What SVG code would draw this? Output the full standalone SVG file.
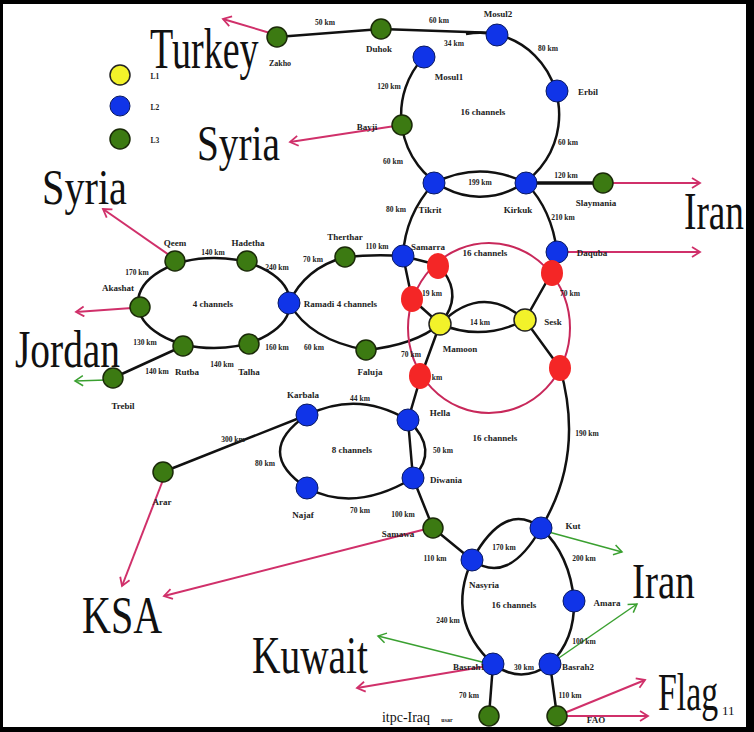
<svg xmlns="http://www.w3.org/2000/svg" width="754" height="732" viewBox="0 0 754 732">
<style>
.big{font-family:"Liberation Serif",serif;fill:#111;}
.nm{font-family:"Liberation Serif",serif;font-size:9px;font-weight:bold;fill:#222;text-anchor:middle;}
.km{font-family:"Liberation Serif",serif;font-size:7.5px;font-weight:bold;fill:#222;text-anchor:middle;}
.e{fill:none;stroke:#111;stroke-width:2.5;}
.pk{fill:none;stroke:#d0306a;stroke-width:2;marker-end:url(#ap);}
.gr{fill:none;stroke:#3aa030;stroke-width:1.5;marker-end:url(#ag);}
.g{fill:#3c7a12;stroke:#1a2a08;stroke-width:1.5;}
.b{fill:#1034e8;stroke:#0a1a60;stroke-width:1;}
.y{fill:#f2f22a;stroke:#222;stroke-width:1.5;}
.r{fill:#f42626;stroke:none;}
</style>
<defs>
<marker id="ap" markerUnits="userSpaceOnUse" markerWidth="14" markerHeight="14" refX="10" refY="6" orient="auto"><path d="M2,1 L10,6 L2,11" fill="none" stroke="#d0306a" stroke-width="1.8"/></marker>
<marker id="ag" markerUnits="userSpaceOnUse" markerWidth="14" markerHeight="14" refX="10" refY="6" orient="auto"><path d="M2,1 L10,6 L2,11" fill="none" stroke="#3aa030" stroke-width="1.5"/></marker>
</defs>
<rect x="0" y="0" width="754" height="732" fill="#000"/>
<rect x="3" y="4" width="743" height="723" fill="#fff"/>

<g id="connectors">
<path class="e" d="M277,37 L381,29 L497,33"/>
<path class="e" d="M466,34 A79,82 0 1 1 424,57"/>
<path class="e" d="M434,183 Q480,160 526,183"/>
<path class="e" d="M434,183 Q405,215 403,256"/>
<path class="e" d="M526,183 Q552,210 557,252"/>
<path class="e" style="stroke-width:3.5" d="M526,183 L603,183"/>
<path class="e" d="M403,256 L438,265 M403,256 L412,299"/>
<path class="e" d="M345,257 Q375,254 403,256"/>
<path class="e" d="M289,303 Q305,268 345,257"/>
<path class="e" d="M289,303 Q310,340 366,350"/>
<path class="e" d="M366,350 Q415,345 440,324"/>
<ellipse cx="489" cy="328" rx="81" ry="85" fill="none" stroke="#c8285a" stroke-width="2"/>
<path class="e" d="M438,265 Q462,290 446,316"/>
<path class="e" d="M412,299 L440,324"/>
<path class="e" d="M440,324 Q482,282 525,320 M440,324 Q482,342 525,320"/>
<path class="e" d="M552,272 L525,320 L560,368"/>
<path class="e" d="M440,324 L421,376 L408,420"/>
<path class="e" d="M560,368 Q585,455 541,528"/>
<ellipse class="e" cx="214" cy="303" rx="76" ry="45"/>
<path class="e" d="M183,346 L113,378"/>
<path class="e" d="M307,415 Q358,390 408,420"/>
<path class="e" d="M307,415 Q253,452 307,488"/>
<path class="e" d="M307,488 Q355,513 413,478"/>
<path class="e" d="M408,420 L413,478 M408,420 Q440,450 413,478"/>
<path class="e" d="M307,415 L163,472"/>
<path class="e" d="M413,478 L433,528 L472,560"/>
<path class="e" d="M472,560 Q505,500 541,528 M472,560 Q508,586 541,528"/>
<path class="e" d="M541,528 Q570,555 574,601"/>
<path class="e" d="M472,560 Q445,620 493,664"/>
<path class="e" d="M574,601 Q575,640 550,664"/>
<path class="e" d="M493,664 Q521,685 550,664"/>
<path class="e" d="M493,664 L489,716 M550,664 L557,716"/>
<path class="pk" d="M270,33 L223,19"/>
<path class="pk" d="M395,126 L290,142"/>
<path class="pk" d="M603,183 L700,183"/>
<path class="pk" d="M557,252 L700,252"/>
<path class="pk" d="M172,257 L103,209"/>
<path class="pk" d="M132,308 L76,312"/>
<path class="gr" d="M106,380 L75,381"/>
<path class="pk" d="M163,480 L122,586"/>
<path class="pk" d="M430,528 L164,596"/>
<path class="gr" d="M545,531 L622,552"/>
<path class="gr" d="M490,664 L378,636"/>
<path class="pk" d="M488,666 L357,688"/>
<path class="gr" d="M553,662 L637,604"/>
<path class="pk" d="M557,716 L645,680"/>
<path class="pk" d="M557,716 L648,716"/>
</g>

<g id="legend">
<circle class="y" cx="120" cy="75" r="10"/><text class="km" x="155" y="79">L1</text>
<circle class="b" cx="120" cy="106" r="10"/><text class="km" x="155" y="110">L2</text>
<circle class="g" cx="120" cy="139" r="10"/><text class="km" x="155" y="143">L3</text>
</g>

<g id="n-zakho"><circle class="g" cx="277" cy="37" r="10"/><text class="nm" x="280" y="66" style="font-size:8px">Zakho</text></g>
<g id="n-duhok"><circle class="g" cx="381" cy="29" r="10"/><text class="nm" x="379" y="52">Duhok</text></g>
<g id="n-mosul2"><circle class="b" cx="497" cy="35" r="11"/><text class="nm" x="498" y="17">Mosul2</text></g>
<g id="n-mosul1"><circle class="b" cx="424" cy="57" r="11"/><text class="nm" x="449" y="80">Mosul1</text></g>
<g id="n-erbil"><circle class="b" cx="557" cy="91" r="11"/><text class="nm" x="588" y="95">Erbil</text></g>
<g id="n-bayji"><circle class="g" cx="402" cy="125" r="10"/><text class="nm" x="367" y="130">Bayji</text></g>
<g id="n-tikrit"><circle class="b" cx="434" cy="183" r="11"/><text class="nm" x="430" y="213">Tikrit</text></g>
<g id="n-kirkuk"><circle class="b" cx="526" cy="183" r="11"/><text class="nm" x="518" y="213">Kirkuk</text></g>
<g id="n-slaymania"><circle class="g" cx="603" cy="183" r="10"/><text class="nm" x="596" y="206">Slaymania</text></g>
<g id="n-samarra"><circle class="b" cx="403" cy="256" r="11"/><text class="nm" x="428" y="250">Samarra</text></g>
<g id="n-daquba"><circle class="b" cx="557" cy="252" r="11"/><text class="nm" x="592" y="256">Daquba</text></g>
<g id="n-red1"><ellipse class="r" cx="438" cy="266" rx="11" ry="13"/></g>
<g id="n-red2"><ellipse class="r" cx="552" cy="273" rx="11" ry="13"/></g>
<g id="n-red3"><ellipse class="r" cx="412" cy="299" rx="11" ry="13"/></g>
<g id="n-red4"><ellipse class="r" cx="420" cy="376" rx="11" ry="13"/></g>
<g id="n-red5"><ellipse class="r" cx="560" cy="368" rx="11" ry="13"/></g>
<g id="n-mamoon"><circle class="y" cx="440" cy="324" r="11"/><text class="nm" x="460" y="352">Mamoon</text></g>
<g id="n-sesk"><circle class="y" cx="525" cy="320" r="11"/><text class="nm" x="553" y="325">Sesk</text></g>
<g id="n-therthar"><circle class="g" cx="345" cy="257" r="10"/><text class="nm" x="345" y="240">Therthar</text></g>
<g id="n-ramadi"><circle class="b" cx="289" cy="303" r="11"/><text class="nm" x="319" y="307">Ramadi</text></g>
<g id="n-faluja"><circle class="g" cx="366" cy="350" r="10"/><text class="nm" x="370" y="375">Faluja</text></g>
<g id="n-qeem"><circle class="g" cx="175" cy="261" r="10"/><text class="nm" x="175" y="246">Qeem</text></g>
<g id="n-hadetha"><circle class="g" cx="247" cy="261" r="10"/><text class="nm" x="248" y="246">Hadetha</text></g>
<g id="n-akashat"><circle class="g" cx="140" cy="307" r="10"/><text class="nm" x="118" y="291">Akashat</text></g>
<g id="n-rutba"><circle class="g" cx="183" cy="346" r="10"/><text class="nm" x="187" y="375">Rutba</text></g>
<g id="n-talha"><circle class="g" cx="249" cy="344" r="10"/><text class="nm" x="249" y="375">Talha</text></g>
<g id="n-trebil"><circle class="g" cx="113" cy="378" r="10"/><text class="nm" x="123" y="409">Trebil</text></g>
<g id="n-karbala"><circle class="b" cx="307" cy="415" r="11"/><text class="nm" x="303" y="398">Karbala</text></g>
<g id="n-hella"><circle class="b" cx="408" cy="420" r="11"/><text class="nm" x="440" y="416">Hella</text></g>
<g id="n-najaf"><circle class="b" cx="307" cy="488" r="11"/><text class="nm" x="303" y="518">Najaf</text></g>
<g id="n-diwania"><circle class="b" cx="413" cy="478" r="11"/><text class="nm" x="446" y="483">Diwania</text></g>
<g id="n-arar"><circle class="g" cx="163" cy="472" r="10"/><text class="nm" x="162" y="505">Arar</text></g>
<g id="n-samawa"><circle class="g" cx="433" cy="528" r="10"/><text class="nm" x="398" y="537">Samawa</text></g>
<g id="n-kut"><circle class="b" cx="541" cy="528" r="11"/><text class="nm" x="573" y="529">Kut</text></g>
<g id="n-nasyria"><circle class="b" cx="472" cy="560" r="11"/><text class="nm" x="484" y="588">Nasyria</text></g>
<g id="n-amara"><circle class="b" cx="574" cy="601" r="11"/><text class="nm" x="607" y="606">Amara</text></g>
<g id="n-basrah1"><circle class="b" cx="493" cy="664" r="11"/><text class="nm" x="469" y="670">Basrah1</text></g>
<g id="n-basrah2"><circle class="b" cx="550" cy="664" r="11"/><text class="nm" x="578" y="670">Basrah2</text></g>
<g id="n-itpc"><circle class="g" cx="489" cy="716" r="10"/><text class="big" x="382" y="722" font-size="15" textLength="48" lengthAdjust="spacingAndGlyphs">itpc-Iraq</text><text class="km" x="447" y="722" style="font-size:6px">usar</text></g>
<g id="n-fao"><circle class="g" cx="557" cy="716" r="10"/><text class="nm" x="596" y="723">FAO</text></g>

<g id="km-labels">
<text class="km" x="325" y="25">50 km</text>
<text class="km" x="439" y="23">60 km</text>
<text class="km" x="454" y="46">34 km</text>
<text class="km" x="548" y="51">80 km</text>
<text class="km" x="389" y="89">120 km</text>
<text class="nm" x="483" y="115">16 channels</text>
<text class="km" x="393" y="164">60 km</text>
<text class="km" x="568" y="145">60 km</text>
<text class="km" x="480" y="185">199 km</text>
<text class="km" x="566" y="178">120 km</text>
<text class="km" x="396" y="212">80 km</text>
<text class="km" x="563" y="220">210 km</text>
<text class="km" x="377" y="249">110 km</text>
<text class="nm" x="485" y="256">16 channels</text>
<text class="km" x="570" y="296">70 km</text>
<text class="km" x="432" y="296">19 km</text>
<text class="km" x="480" y="325">14 km</text>
<text class="km" x="411" y="357">70 km</text>
<text class="km" x="437" y="380">km</text>
<text class="nm" x="213" y="307">4 channels</text>
<text class="nm" x="357" y="307">4 channels</text>
<text class="km" x="213" y="255">140 km</text>
<text class="km" x="137" y="275">170 km</text>
<text class="km" x="277" y="270">240 km</text>
<text class="km" x="313" y="262">70 km</text>
<text class="km" x="145" y="345">130 km</text>
<text class="km" x="277" y="350">160 km</text>
<text class="km" x="314" y="350">60 km</text>
<text class="km" x="157" y="374">140 km</text>
<text class="km" x="222" y="367">140 km</text>
<text class="km" x="360" y="401">44 km</text>
<text class="km" x="233" y="442">300 km</text>
<text class="nm" x="352" y="453">8 channels</text>
<text class="km" x="265" y="466">80 km</text>
<text class="km" x="443" y="453">50 km</text>
<text class="km" x="360" y="513">70 km</text>
<text class="km" x="403" y="517">100 km</text>
<text class="km" x="435" y="561">110 km</text>
<text class="nm" x="495" y="441">16 channels</text>
<text class="km" x="587" y="436">190 km</text>
<text class="km" x="504" y="550">170 km</text>
<text class="km" x="584" y="561">200 km</text>
<text class="nm" x="514" y="608">16 channels</text>
<text class="km" x="448" y="623">240 km</text>
<text class="km" x="584" y="644">100 km</text>
<text class="km" x="524" y="670">30 km</text>
<text class="km" x="469" y="698">70 km</text>
<text class="km" x="570" y="698">110 km</text>
</g>

<g id="countries">
<text class="big" font-size="56" transform="translate(150,68) scale(0.68,1)">Turkey</text>
<text class="big" font-size="50" transform="translate(197,160) scale(0.786,1)">Syria</text>
<text class="big" font-size="50" transform="translate(42,204) scale(0.805,1)">Syria</text>
<text class="big" font-size="52" transform="translate(684,229) scale(0.717,1)">Iran</text>
<text class="big" font-size="52" transform="translate(15,367) scale(0.758,1)">Jordan</text>
<text class="big" font-size="52" transform="translate(82,633) scale(0.77,1)">KSA</text>
<text class="big" font-size="50" transform="translate(632,598) scale(0.78,1)">Iran</text>
<text class="big" font-size="52" transform="translate(252,673) scale(0.758,1)">Kuwait</text>
<text class="big" font-size="52" transform="translate(658,710) scale(0.65,1)">Flag</text>
<text class="big" x="722" y="715" font-size="13">11</text>
</g>
</svg>
